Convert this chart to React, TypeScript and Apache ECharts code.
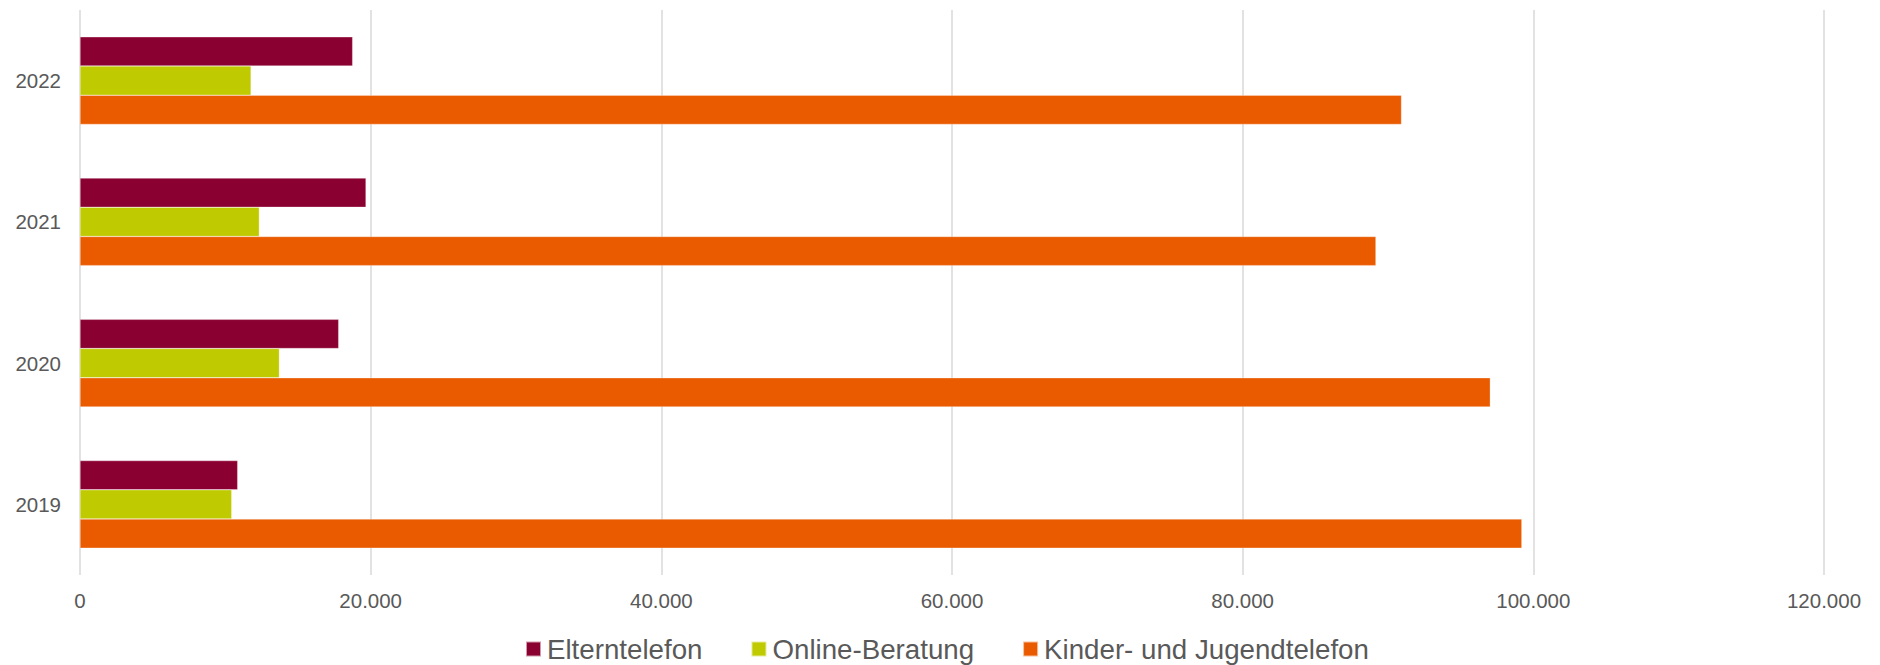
import React, { useEffect, useRef } from "react";
import * as echarts from "echarts";

const years = ["2019", "2020", "2021", "2022"];
const seriesNames = ["Elterntelefon", "Online-Beratung", "Kinder- und Jugendtelefon"];
const elterntelefon = [10850, 17800, 19680, 18760];
const onlineBeratung = [10440, 13720, 12340, 11770];
const kinderJugend = [99210, 97040, 89170, 90930];
const colors = ["#8a0030", "#c0ca00", "#ea5b00"];
const xTicks = { min: 0, max: 120000, interval: 20000 };

const fmt = (v: number) => String(Math.round(v)).replace(/\B(?=(\d{3})+(?!\d))/g, ".");

export default function App() {
  const ref = useRef<HTMLDivElement>(null);
  useEffect(() => {
    if (!ref.current) return;
    const chart = echarts.init(ref.current, undefined, { renderer: "svg" });
    const values = [elterntelefon, onlineBeratung, kinderJugend];
    chart.setOption({
      animation: false,
      textStyle: { fontFamily: "Liberation Sans, Arial, sans-serif" },
      grid: { left: 80, right: 56, top: 10, bottom: 90, containLabel: false },
      legend: {
        data: seriesNames,
        left: 525,
        top: 635,
        padding: 0,
        itemWidth: 15,
        itemHeight: 15,
        itemGap: 48,
        icon: "rect",
        textStyle: { fontSize: 27.7, lineHeight: 28, color: "#595959", fontFamily: "Liberation Sans, Arial, sans-serif", padding: [0, 0, 0, 1] },
      },
      xAxis: {
        type: "value",
        min: xTicks.min,
        max: xTicks.max,
        interval: xTicks.interval,
        axisLine: { show: false },
        axisTick: { show: false },
        splitLine: { show: true, lineStyle: { color: "#d9d9d9", width: 1.5 } },
        axisLabel: { fontSize: 20.5, color: "#595959", margin: 15, formatter: (v: number) => fmt(v) },
      },
      yAxis: {
        type: "category",
        data: years,
        axisLine: { show: false },
        axisTick: { show: false },
        axisLabel: { fontSize: 20.5, color: "#595959", margin: 19 },
      },
      series: seriesNames.map((name, i) => ({
        name,
        type: "bar",
        data: values[i],
        barGap: "0%",
        barCategoryGap: "38%",
        itemStyle: { color: colors[i], borderColor: "rgba(255,255,255,0.6)", borderWidth: 0.5 },
      })),
    });
    return () => chart.dispose();
  }, []);
  return <div ref={ref} style={{ position: "absolute", left: 0, top: 0, width: 1880, height: 665 }} />;
}
